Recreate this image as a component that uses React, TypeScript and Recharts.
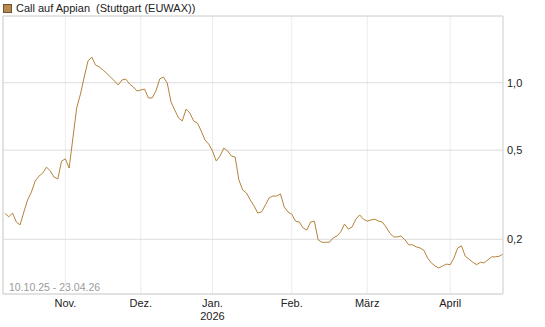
import React from 'react';
import { LineChart, Line, XAxis, YAxis, CartesianGrid, ReferenceLine } from 'recharts';

const seriesName = 'Call auf Appian  (Stuttgart (EUWAX))';
const rangeLabel = '10.10.25 - 23.04.26';

// one value per trading day, 10.10.2025 .. 23.04.2026
const values = [
  0.261, 0.252, 0.262, 0.239, 0.232, 0.265, 0.300, 0.325, 0.364, 0.383,
  0.395, 0.420, 0.404, 0.379, 0.372, 0.447, 0.457, 0.416, 0.567, 0.771,
  0.890, 1.060, 1.250, 1.302, 1.199, 1.175, 1.139, 1.099, 1.060, 1.018,
  0.977, 1.028, 1.039, 0.987, 0.957, 0.918, 0.928, 0.937, 0.855, 0.855,
  0.918, 1.039, 1.060, 0.997, 0.820, 0.755, 0.696, 0.675, 0.763, 0.732,
  0.675, 0.661, 0.609, 0.555, 0.532, 0.496, 0.447, 0.471, 0.511, 0.496,
  0.471, 0.466, 0.368, 0.332, 0.322, 0.300, 0.282, 0.262, 0.265, 0.284,
  0.306, 0.312, 0.312, 0.319, 0.279, 0.265, 0.259, 0.241, 0.239, 0.225,
  0.220, 0.239, 0.241, 0.199, 0.194, 0.194, 0.194, 0.203, 0.207, 0.216,
  0.234, 0.222, 0.227, 0.246, 0.257, 0.246, 0.241, 0.244, 0.246, 0.241,
  0.239, 0.227, 0.213, 0.205, 0.205, 0.207, 0.199, 0.189, 0.189, 0.185,
  0.183, 0.179, 0.165, 0.157, 0.152, 0.149, 0.152, 0.155, 0.154, 0.165,
  0.183, 0.187, 0.168, 0.163, 0.158, 0.154, 0.158, 0.157, 0.162, 0.167,
  0.167, 0.168, 0.172,
];

// trading-day index of the first trading day of each month
const monthTickDays = [16, 36, 55, 76, 96, 118];
const monthTickLabels = ['Nov.', 'Dez.', 'Jan.', 'Feb.', 'März', 'April'];
const yearLabelDay = 55;
const yearLabel = '2026';

const yTicks = [0.2, 0.5, 1.0];
const xDomain: [number, number] = [-0.53, 132];
const yDomain: [number, number] = [0.114, 1.985];

const data = values.map((v, i) => ({ day: i, value: v }));

const FONT = '"Liberation Sans", Arial, sans-serif';
const LINE_COLOR = '#b5833c';

const MonthTick = (props: any) => {
  const { x, y, payload } = props;
  const idx = monthTickDays.indexOf(payload.value);
  return (
    <g>
      <text x={x} y={y + 13} textAnchor="middle" fontSize={11} fill="#222" fontFamily={FONT}>
        {monthTickLabels[idx]}
      </text>
      {payload.value === yearLabelDay && (
        <text x={x} y={y + 26} textAnchor="middle" fontSize={11} fill="#222" fontFamily={FONT}>
          {yearLabel}
        </text>
      )}
    </g>
  );
};

const ValueTick = (props: any) => {
  const { x, y, payload } = props;
  return (
    <text x={x + 4} y={y} dy="0.355em" textAnchor="start" fontSize={11} fill="#222" fontFamily={FONT}>
      {Number(payload.value).toFixed(1).replace('.', ',')}
    </text>
  );
};

export default function App() {
  return (
    <div style={{ position: 'absolute', left: 0, top: 0, width: 545, height: 327, background: '#fff' }}>
      <div
        style={{
          position: 'absolute', left: 3, top: 2, fontFamily: FONT, fontSize: 11, color: '#222',
          display: 'flex', alignItems: 'center', whiteSpace: 'pre', lineHeight: '13px',
        }}
      >
        <span
          style={{
            display: 'inline-block', width: 7, height: 7, background: '#b98a4e',
            border: '1px solid #6e5330', marginRight: 4,
          }}
        />
        <span>{seriesName}</span>
      </div>
      <div
        style={{
          position: 'absolute', left: 9, top: 281, fontFamily: FONT, fontSize: 10.5, color: '#9a9a9a',
          lineHeight: '12px', whiteSpace: 'pre',
        }}
      >
        {rangeLabel}
      </div>
      <LineChart
        width={545}
        height={327}
        data={data}
        margin={{ top: 16, right: 0, bottom: 0, left: 3 }}
        style={{ position: 'absolute', left: 0, top: 0 }}
      >
        <CartesianGrid horizontal={false} vertical stroke="#ececec" strokeWidth={1} />
        <CartesianGrid horizontal vertical={false} stroke="#dcdcdc" strokeWidth={1} />
        <XAxis
          dataKey="day"
          type="number"
          domain={xDomain}
          allowDataOverflow
          ticks={monthTickDays}
          tick={<MonthTick />}
          tickLine={false}
          tickSize={0}
          tickMargin={0}
          height={33}
          axisLine={{ stroke: '#d6d6d6' }}
          interval={0}
        />
        <YAxis
          orientation="right"
          type="number"
          scale="log"
          domain={yDomain}
          allowDataOverflow
          ticks={yTicks}
          tick={<ValueTick />}
          tickLine={false}
          tickSize={0}
          tickMargin={0}
          width={42}
          axisLine={{ stroke: '#d6d6d6' }}
          interval={0}
        />
        <ReferenceLine y={yDomain[1]} stroke="#dcdcdc" />
        <ReferenceLine x={xDomain[0]} stroke="#cfcfcf" />
        <Line
          type="linear"
          dataKey="value"
          stroke={LINE_COLOR}
          strokeWidth={1}
          dot={false}
          isAnimationActive={false}
        />
      </LineChart>
    </div>
  );
}
